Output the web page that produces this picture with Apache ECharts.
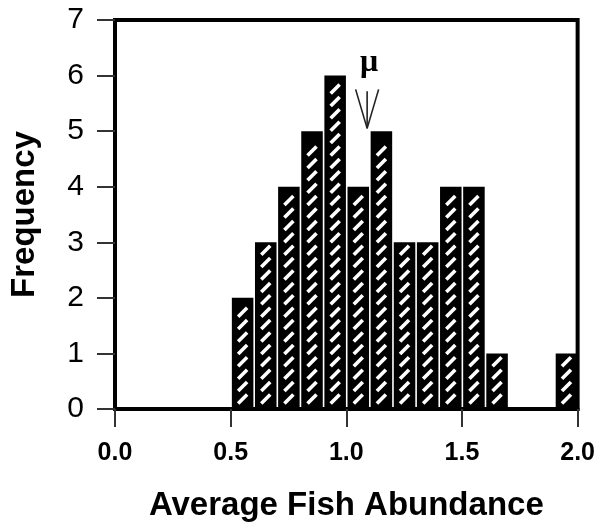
<!DOCTYPE html>
<html>
<head>
<meta charset="utf-8">
<script src="https://cdn.jsdelivr.net/npm/echarts@6/dist/echarts.min.js"></script>
<style>
html,body{margin:0;padding:0;background:#fff;}
#chart{width:598px;height:527px;}
</style>
</head>
<body>
<div id="chart"></div>
<script>
// Histogram bins (Average Fish Abundance) and their frequencies
const binLeft   = [0.5, 0.6, 0.7, 0.8, 0.9, 1.0, 1.1, 1.2, 1.3, 1.4, 1.5, 1.6, 1.7, 1.8, 1.9];
const binRight  = [0.6, 0.7, 0.8, 0.9, 1.0, 1.1, 1.2, 1.3, 1.4, 1.5, 1.6, 1.7, 1.8, 1.9, 2.0];
const frequency = [2,   3,   4,   5,   6,   4,   5,   3,   3,   4,   4,   1,   0,   0,   1];

// Mean marker (mu) and height of the arrow tip
const muValue = 1.09;
const muArrowTip = 5.05;
const muLabel = 'μ';

// Axis ticks
const xTicks = [0.0, 0.5, 1.0, 1.5, 2.0];
const yTicks = [0, 1, 2, 3, 4, 5, 6, 7];

const histData = binLeft.map((l, i) => [l, binRight[i], frequency[i]]);

const chart = echarts.init(document.getElementById('chart'), null, {renderer: 'canvas'});

const option = {
  animation: false,
  backgroundColor: '#fff',
  grid: {
    left: 115, right: 16.5, top: 20, bottom: 116.5,
    show: true, borderColor: '#000', borderWidth: 4, backgroundColor: 'transparent'
  },
  xAxis: {
    type: 'value',
    min: xTicks[0], max: xTicks[xTicks.length - 1], interval: 0.5,
    name: 'Average Fish Abundance',
    nameLocation: 'middle',
    nameGap: 80,
    nameTextStyle: {fontFamily: 'Liberation Sans, Arial, sans-serif', fontWeight: 'bold', fontSize: 33, color: '#000'},
    axisLine: {show: true, onZero: false, lineStyle: {color: '#000', width: 4}},
    axisTick: {show: true, length: 18, lineStyle: {color: '#333', width: 2}},
    axisLabel: {
      margin: 32,
      fontFamily: 'Liberation Sans, Arial, sans-serif', fontWeight: 'bold', fontSize: 25, color: '#000',
      formatter: v => v.toFixed(1)
    },
    splitLine: {show: false}
  },
  yAxis: {
    type: 'value',
    min: yTicks[0], max: yTicks[yTicks.length - 1], interval: 1,
    name: 'Frequency',
    nameLocation: 'middle',
    nameGap: 74,
    nameTextStyle: {fontFamily: 'Liberation Sans, Arial, sans-serif', fontWeight: 'bold', fontSize: 33, color: '#000'},
    axisLine: {show: true, onZero: false, lineStyle: {color: '#000', width: 4}},
    axisTick: {show: true, length: 18, lineStyle: {color: '#333', width: 2}},
    axisLabel: {
      margin: 31,
      fontFamily: 'Liberation Sans, Arial, sans-serif', fontSize: 30, color: '#000'
    },
    splitLine: {show: false}
  },
  series: [
    {
      type: 'custom',
      data: histData,
      encode: {x: [0, 1], y: 2},
      renderItem: function (params, api) {
        const x0 = api.value(0), x1 = api.value(1), c = api.value(2);
        if (!c) return null;
        const pTop = api.coord([x0, c]);
        const pBot = api.coord([x1, 0]);
        const left = pTop[0] + 1.2;
        const right = pBot[0] - 0.4;
        const top = pTop[1];
        const bottom = pBot[1];
        const children = [{
          type: 'rect',
          shape: {x: left, y: top, width: right - left, height: bottom - top},
          style: {fill: '#000'}
        }];
        const cx = (left + right) / 2;
        for (let yc = bottom - 10; yc - 4.5 >= top + 3; yc -= 12.4) {
          children.push({
            type: 'line',
            shape: {x1: cx - 4.5, y1: yc + 4.5, x2: cx + 4.5, y2: yc - 4.5},
            style: {stroke: '#fff', lineWidth: 3.6}
          });
        }
        return {type: 'group', children: children};
      },
      z: 1
    },
    {
      type: 'custom',
      data: [[muValue, muArrowTip]],
      renderItem: function (params, api) {
        const tip = api.coord([api.value(0), api.value(1)]);
        const style = {stroke: '#222', lineWidth: 1.6};
        return {
          type: 'group',
          children: [
            {type: 'line', shape: {x1: tip[0] - 11.5, y1: tip[1] - 39, x2: tip[0], y2: tip[1]}, style: style},
            {type: 'line', shape: {x1: tip[0] + 11.5, y1: tip[1] - 39, x2: tip[0], y2: tip[1]}, style: style},
            {type: 'line', shape: {x1: tip[0], y1: tip[1] - 37, x2: tip[0], y2: tip[1]}, style: style},
            {type: 'text', style: {
              text: muLabel, x: tip[0] + 2, y: tip[1] - 66,
              align: 'center', verticalAlign: 'middle',
              font: 'bold 32px "Liberation Serif", "Times New Roman", serif', fill: '#000'
            }}
          ]
        };
      },
      z: 3
    }
  ]
};
chart.setOption(option);
</script>
</body>
</html>
